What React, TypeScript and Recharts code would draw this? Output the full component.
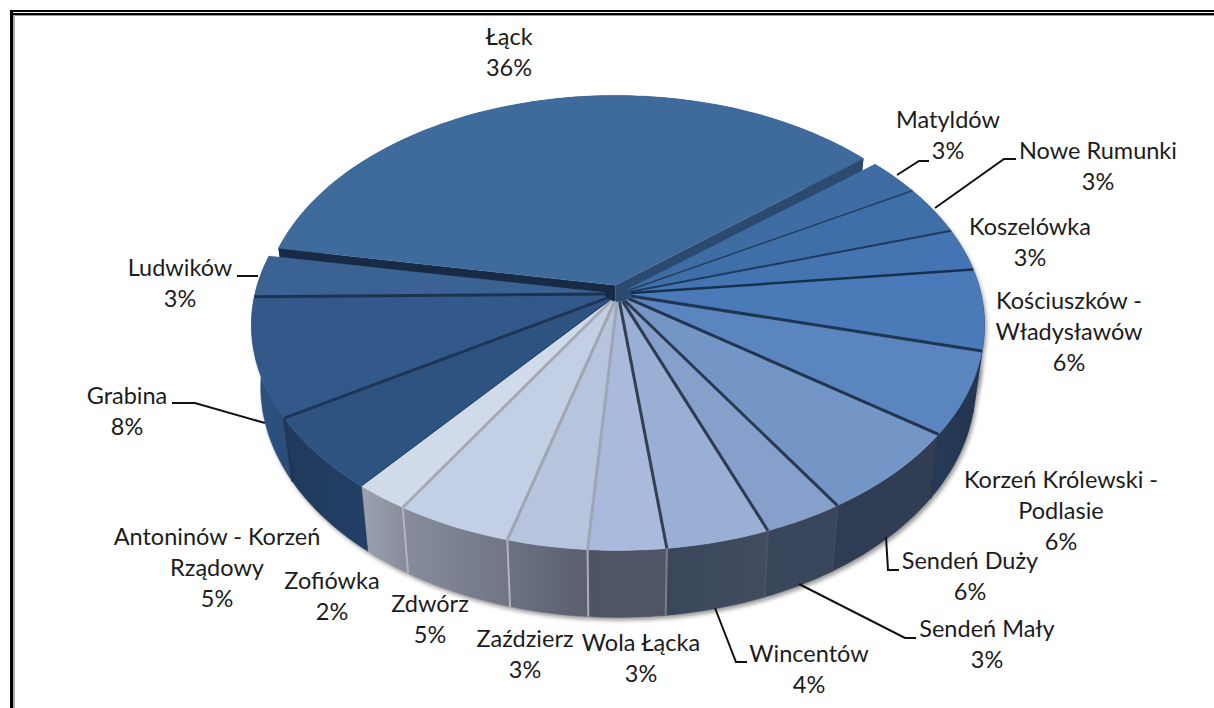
import React from "react";
import { PieChart, Pie } from "recharts";

const names = [
  "Łąck", "Matyldów", "Nowe Rumunki", "Koszelówka", "Kościuszków -|Władysławów",
  "Korzeń Królewski -|Podlasie", "Sendeń Duży", "Sendeń Mały", "Wincentów", "Wola Łącka",
  "Zaździerz", "Zdwórz", "Zofiówka", "Antoninów - Korzeń|Rządowy", "Grabina", "Ludwików",
];
// printed on the chart
const percentLabels = ["36%", "3%", "3%", "3%", "6%", "6%", "6%", "3%", "4%", "3%", "3%", "5%", "2%", "5%", "8%", "3%"];
// shares
const shares = [36.1, 2.7, 3.5, 3.0, 5.8, 5.9, 6.1, 3.1, 4.0, 3.0, 3.1, 4.5, 2.1, 5.4, 8.5, 3.0];

const topColors = [
  "#3F6A9C", "#3E6CA3", "#3F6FA9", "#4475B2", "#4A7AB8", "#5A85BF", "#7496C6", "#86A0CB",
  "#99AFD3", "#A9BADC", "#B6C4DE", "#C3CFE4", "#D1DAE9", "#2F5381", "#33598A", "#3A6394",
];
const wallLeft = [
  "#2A4A70", "#25395A", "#25395A", "#25395A", "#25395A", "#263A57", "#2E3C54", "#3A465A",
  "#3A465A", "#4E5462", "#6C7282", "#878D9C", "#9CA2AE", "#20395C", "#2E5382", "#2C5080",
];
const wallRight = [
  "#2A4A70", "#25395A", "#25395A", "#25395A", "#25395A", "#24344D", "#323E52", "#39455A",
  "#414C5F", "#4F5566", "#5A5F6D", "#6F7584", "#868B99", "#233F66", "#2A4C78", "#2C5080",
];
// separator drawn on the leading edge of each slice
const edgeColors = [
  "none", "none", "#23405F", "#1F3A5C", "#173050", "#1F3552", "#22344F", "#2A3950",
  "#2E3C52", "#353F52", "#9EA6B5", "#A0A5AF", "#A5ABB6", "#1F3A5C", "#1D3556", "#1C3350",
];
const edgeWidths = [0, 0, 1.5, 2, 2.5, 3, 3, 3, 3, 3, 3, 3, 3, 1, 3, 3];
const wallEdgeColors = [
  "none", "none", "none", "none", "none", "none", "#2B3850", "#3F4A5E", "#4A5368",
  "#7A7F8C", "#A9ADB6", "#B0B4BC", "#B0B4BC", "none", "#1E3556", "none",
];

const labelSpots = [
  [509, 45], [948, 128], [1098, 159], [1030, 235], [1069, 309], [1061, 488], [970, 569], [987, 637],
  [809, 662], [641, 651], [525, 647], [430, 612], [332, 589], [217, 545], [127, 404], [180, 276],
];
const leaders: Record<number, string> = {
  1: "M897 175 L919 161 L929 161",
  2: "M935 208 L1004 159 L1016 159",
  6: "M886 537 L888 570 L899 570",
  7: "M799 584 L905 638 L916 638",
  8: "M715 608 L736 662 L747 662",
  14: "M172 403 L195 403 L265 423",
  15: "M237 276 L258 276",
};

const rows = names.map((name, idx) => ({ name, idx, share: shares[idx] }));

const PERSPECTIVE = 0.138;
const SQUASH = 0.609;
const EXPLODE_X = -0.008;
const EXPLODE_Y = -0.04;
const EXPLODED_SCALE = 0.985;
const EXPLODED_WIDTH = 0.985;
const START = 169.9;

// polar -> tilted disc with a little perspective
const topPoint = (p: any, deg: number, frac: number, exploded: boolean) => {
  const t = (-deg * Math.PI) / 180;
  const r = frac * (exploded ? EXPLODED_SCALE : 1);
  const X = (r * Math.cos(t) + (exploded ? EXPLODE_X : 0)) * (exploded ? EXPLODED_WIDTH : 1);
  const Y = r * Math.sin(t) + (exploded ? EXPLODE_Y : 0);
  const k = 1 - PERSPECTIVE * Y;
  return [p.cx + (p.outerRadius * X) / k, p.cy + (p.outerRadius * SQUASH * Y) / k];
};

// same point on the bottom face
const lower = (p: any, pt: number[]) => [
  p.cx + (pt[0] - p.cx) * 0.975,
  p.cy + (pt[1] - p.cy) * 1.0256 + 60.4,
];

const toPath = (pts: number[][]) =>
  "M" + pts.map((q) => `${q[0].toFixed(1)} ${q[1].toFixed(1)}`).join(" L") + " Z";

const arc = (p: any, a: number, b: number, frac: number, exploded: boolean) => {
  const n = Math.max(2, Math.ceil(Math.abs(a - b) / 1.5));
  const out: number[][] = [];
  for (let i = 0; i <= n; i++) out.push(topPoint(p, a + ((b - a) * i) / n, frac, exploded));
  return out;
};

const getIdx = (p: any) => p.payload?.idx ?? p.idx ?? 0;

const WallShape = (p: any) => {
  const idx = getIdx(p);
  const exploded = idx === 0;
  const rim = arc(p, p.startAngle, p.endAngle, 1, exploded);
  const wall = toPath([...rim, ...rim.map((q) => lower(p, q)).reverse()]);
  const first = rim[0];
  const firstLow = lower(p, first);
  if (exploded) {
    const apex = topPoint(p, p.startAngle, 0, true);
    const apexLow = lower(p, apex);
    const last = rim[rim.length - 1];
    return (
      <g>
        <path d={wall} fill="#2A4A70" />
        <path d={toPath([apex, first, firstLow, apexLow])} fill="#182A45" />
        <path d={toPath([apex, last, lower(p, last), apexLow])} fill="#2A4A70" />
      </g>
    );
  }
  return (
    <g>
      <path d={wall} fill={`url(#wall-${idx})`} stroke={`url(#wall-${idx})`} strokeWidth={0.5} />
      {wallEdgeColors[idx] !== "none" && (
        <line x1={first[0]} y1={first[1]} x2={firstLow[0]} y2={firstLow[1]} stroke={wallEdgeColors[idx]} strokeWidth={2} />
      )}
    </g>
  );
};

const ShadowShape = (p: any) => {
  const idx = getIdx(p);
  if (idx === 0) return <g />;
  const rim = arc(p, p.startAngle, p.endAngle, 1, false);
  const low = rim.map((q) => lower(p, q));
  return <path d={toPath([...rim, ...low.reverse()])} fill="#000" opacity={0.4} filter="url(#soft)" transform="translate(2 3)" />;
};

const TopShape = (p: any) => {
  const idx = getIdx(p);
  const exploded = idx === 0;
  const outer = arc(p, p.startAngle, p.endAngle, 1, exploded);
  const hubFrac = exploded ? 0 : p.innerRadius / p.outerRadius;
  const inner = arc(p, p.endAngle, p.startAngle, hubFrac, exploded);
  const hubStart = inner[inner.length - 1];
  return (
    <g>
      <path d={toPath([...outer, ...inner])} fill={topColors[idx]} stroke={topColors[idx]} strokeWidth={0.4} />
      {edgeWidths[idx] > 0 && (
        <line x1={hubStart[0]} y1={hubStart[1]} x2={outer[0][0]} y2={outer[0][1]} stroke={edgeColors[idx]} strokeWidth={edgeWidths[idx]} />
      )}
    </g>
  );
};

const SliceLabel = (props: any) => {
  const idx = props.index ?? getIdx(props);
  const [x, y] = labelSpots[idx];
  const lines = [...names[idx].split("|"), percentLabels[idx]];
  return (
    <g>
      {leaders[idx] && <path d={leaders[idx]} fill="none" stroke="#111" strokeWidth={2} />}
      <text x={x} y={y} textAnchor="middle" fontFamily="Lato, sans-serif" fontSize={23.5} fill="#1c1c1c">
        {lines.map((line, i) => (
          <tspan key={i} x={x} dy={i === 0 ? 0 : 31}>
            {line}
          </tspan>
        ))}
      </text>
    </g>
  );
};

const frameLine = (left: number, top: number, width: number, height: number, background: string) => (
  <div style={{ position: "absolute", left, top, width, height, background }} />
);

const App = () => {
  const pieProps = {
    data: rows,
    dataKey: "share",
    nameKey: "name",
    cx: 618,
    cy: 294,
    innerRadius: 13,
    outerRadius: 363,
    startAngle: START,
    endAngle: START - 360,
    stroke: "none",
    isAnimationActive: false,
  };
  return (
    <div style={{ position: "absolute", left: 0, top: 0, width: 1214, height: 708, background: "#fff", overflow: "hidden" }}>
      <PieChart width={1214} height={708} margin={{ top: 0, right: 0, bottom: 0, left: 0 }}>
        <defs>
          {rows.map((r) => (
            <linearGradient key={r.idx} id={`wall-${r.idx}`} x1="0" y1="0" x2="1" y2="0">
              <stop offset="0" stopColor={wallLeft[r.idx]} />
              <stop offset="1" stopColor={wallRight[r.idx]} />
            </linearGradient>
          ))}
          <filter id="soft" x="-20%" y="-20%" width="140%" height="140%">
            <feGaussianBlur stdDeviation={2} />
          </filter>
        </defs>
        <Pie {...pieProps} shape={ShadowShape} />
        <Pie {...pieProps} shape={WallShape} />
        <Pie {...pieProps} shape={TopShape} label={SliceLabel} labelLine={false} />
      </PieChart>
      {frameLine(10, 10, 1204, 2, "#000")}
      {frameLine(13, 13, 1201, 2, "#000")}
      {frameLine(14, 15, 1200, 1, "#999")}
      {frameLine(10, 10, 3, 698, "#000")}
      {frameLine(13, 15, 2, 693, "#aaa")}
    </div>
  );
};

export default App;
